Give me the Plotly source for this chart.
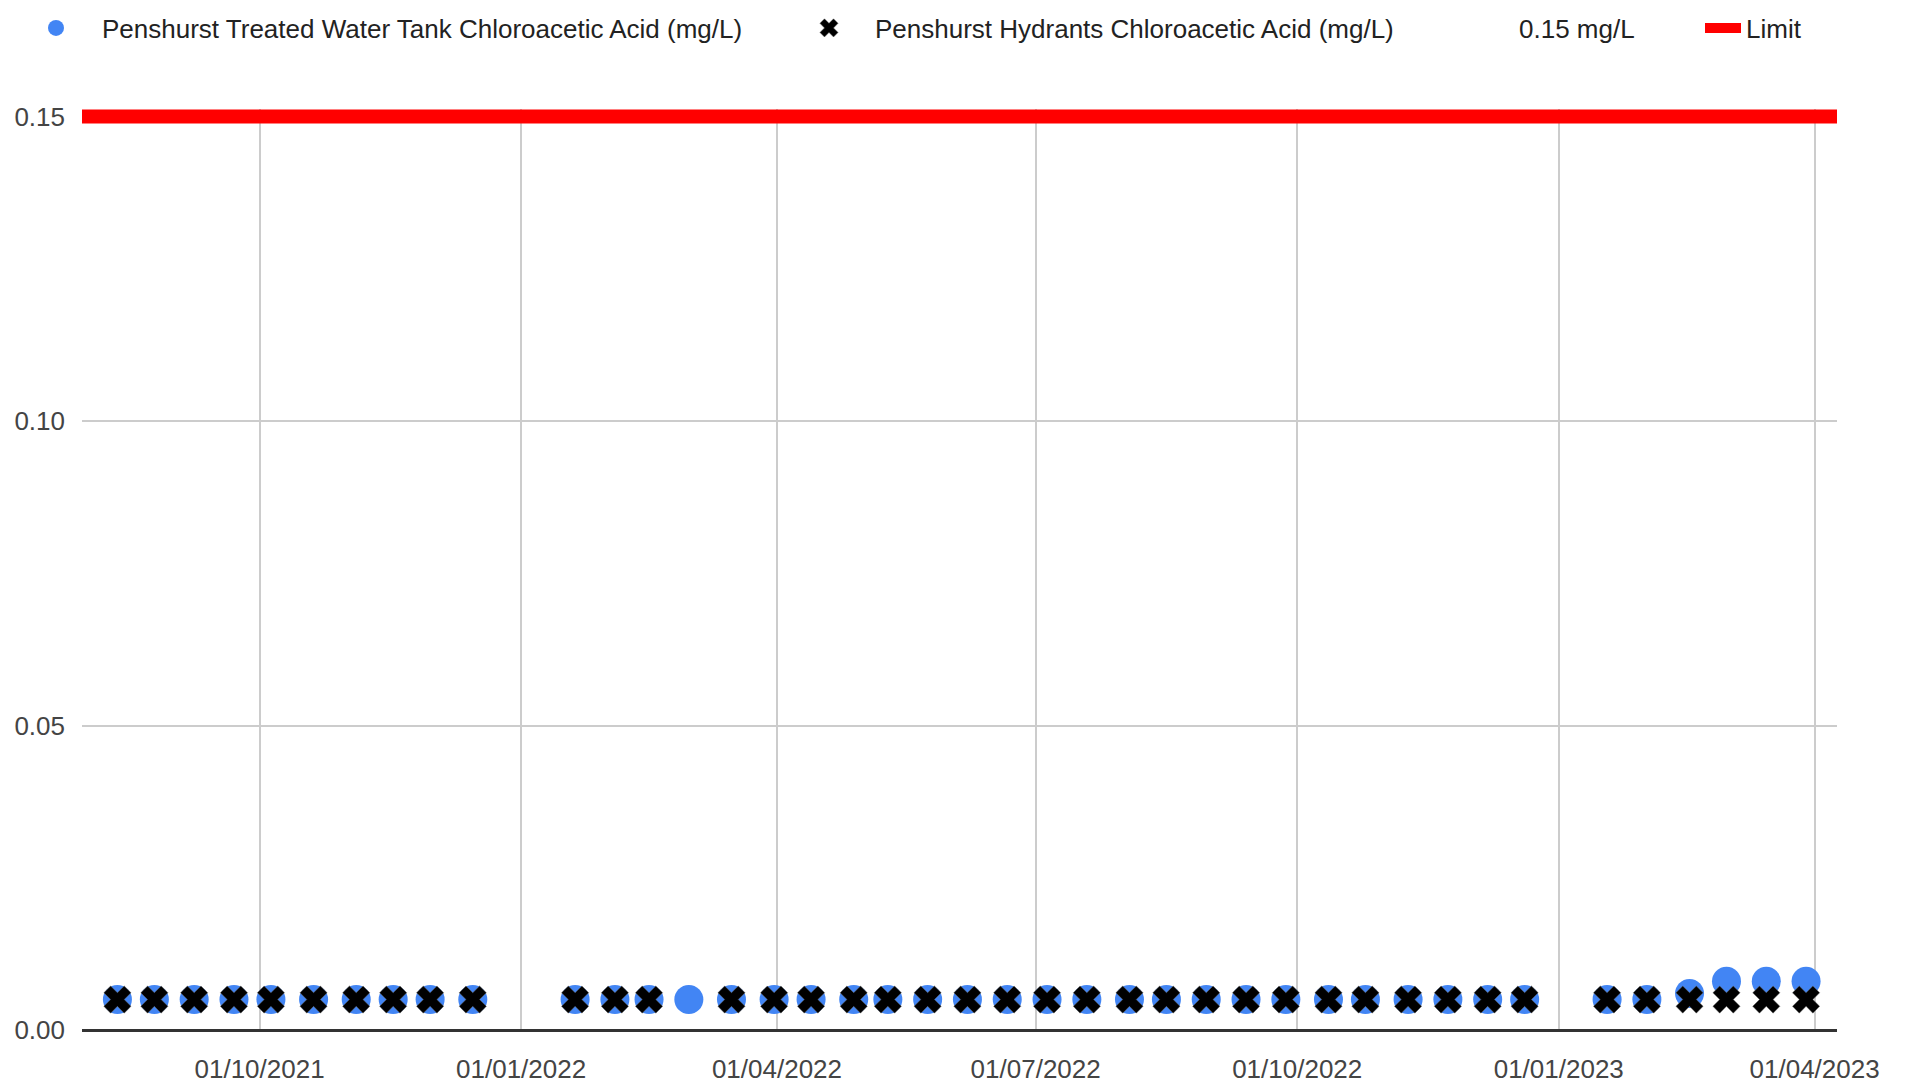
import plotly.graph_objects as go

# ---------------- data ----------------
tank_dates = [
    "2021-08-12", "2021-08-25", "2021-09-08", "2021-09-22", "2021-10-05",
    "2021-10-20", "2021-11-04", "2021-11-17", "2021-11-30", "2021-12-15",
    "2022-01-20", "2022-02-03", "2022-02-15", "2022-03-01", "2022-03-16",
    "2022-03-31", "2022-04-13", "2022-04-28", "2022-05-10", "2022-05-24",
    "2022-06-07", "2022-06-21", "2022-07-05", "2022-07-19", "2022-08-03",
    "2022-08-16", "2022-08-30", "2022-09-13", "2022-09-27", "2022-10-12",
    "2022-10-25", "2022-11-09", "2022-11-23", "2022-12-07", "2022-12-20",
    "2023-01-18", "2023-02-01", "2023-02-16", "2023-03-01", "2023-03-15",
    "2023-03-29",
]
tank_values = [
    0.005, 0.005, 0.005, 0.005, 0.005, 0.005, 0.005, 0.005, 0.005, 0.005,
    0.005, 0.005, 0.005, 0.005, 0.005, 0.005, 0.005, 0.005, 0.005, 0.005,
    0.005, 0.005, 0.005, 0.005, 0.005, 0.005, 0.005, 0.005, 0.005, 0.005,
    0.005, 0.005, 0.005, 0.005, 0.005, 0.005, 0.005, 0.006, 0.008, 0.008,
    0.008,
]
hydrant_dates = [
    "2021-08-12", "2021-08-25", "2021-09-08", "2021-09-22", "2021-10-05",
    "2021-10-20", "2021-11-04", "2021-11-17", "2021-11-30", "2021-12-15",
    "2022-01-20", "2022-02-03", "2022-02-15", "2022-03-16",
    "2022-03-31", "2022-04-13", "2022-04-28", "2022-05-10", "2022-05-24",
    "2022-06-07", "2022-06-21", "2022-07-05", "2022-07-19", "2022-08-03",
    "2022-08-16", "2022-08-30", "2022-09-13", "2022-09-27", "2022-10-12",
    "2022-10-25", "2022-11-09", "2022-11-23", "2022-12-07", "2022-12-20",
    "2023-01-18", "2023-02-01", "2023-02-16", "2023-03-01", "2023-03-15",
    "2023-03-29",
]
hydrant_values = [0.005] * len(hydrant_dates)

limit_value = 0.15
x_range = ["2021-07-30 13:00", "2023-04-08 21:00"]
y_range = [0, 0.15123]
y_ticks = [0.0, 0.05, 0.10, 0.15]

series_names = [
    "Penshurst Treated Water Tank Chloroacetic Acid (mg/L)",
    "Penshurst Hydrants Chloroacetic Acid (mg/L)",
    "0.15 mg/L",
    "Limit",
]

# ---------------- figure ----------------
FONT = "Liberation Sans, Arial, sans-serif"
# the page body adds an 8px margin at top/left; the figure fills the rest
W, H = 1898, 1078

fig = go.Figure()
fig.add_trace(go.Scatter(
    x=tank_dates, y=tank_values, mode="markers", name=series_names[0],
    marker=dict(symbol="circle", size=29, color="#4285f4", line=dict(width=0)),
    legend="legend",
))
fig.add_trace(go.Scatter(
    x=hydrant_dates, y=hydrant_values, mode="markers", name=series_names[1],
    marker=dict(symbol="x", size=24, color="#000000",
                line=dict(width=0.5, color="#666666")),
    legend="legend2",
))
fig.add_trace(go.Scatter(
    x=[None], y=[None], mode="lines", name=series_names[2],
    line=dict(color="rgba(0,0,0,0)", width=1),
    legend="legend3",
))
fig.add_trace(go.Scatter(
    x=x_range, y=[limit_value, limit_value], mode="lines", name=series_names[3],
    line=dict(color="#ff0000", width=14),
    legend="legend4",
))

def leg(left_px, itemwidth=82):
    return dict(
        xref="container", yref="container",
        x=left_px / W, y=1 - 20 / H, xanchor="left", yanchor="middle",
        orientation="h", font=dict(family=FONT, size=26, color="#222222"),
        bgcolor="rgba(0,0,0,0)", borderwidth=0, itemwidth=itemwidth,
    )

fig.update_layout(
    width=W, height=H,
    margin=dict(l=74, r=69, t=101, b=56, pad=0, autoexpand=False),
    plot_bgcolor="white", paper_bgcolor="white",
    font=dict(family=FONT, size=26, color="#444444"),
    showlegend=True,
    legend=leg(2),
    legend2=leg(775),
    legend3=leg(1419),
    legend4=leg(1692, itemwidth=36),
    xaxis=dict(
        type="date", range=x_range, tick0="2021-10-01", dtick="M3",
        tickformat="%d/%m/%Y", showgrid=True, gridcolor="#cccccc", gridwidth=2,
        zeroline=False, showline=False, ticks="", ticklabelstandoff=21,
        automargin=False,
        tickfont=dict(family=FONT, size=26, color="#444444"),
    ),
    yaxis=dict(
        range=y_range, tickvals=y_ticks, tickformat=".2f",
        showgrid=True, gridcolor="#cccccc", gridwidth=2,
        zeroline=True, zerolinecolor="#333333", zerolinewidth=3,
        showline=False, ticks="", ticklabelstandoff=16,
        automargin=False,
        tickfont=dict(family=FONT, size=26, color="#444444"),
    ),
)

fig.write_html("out.html")
